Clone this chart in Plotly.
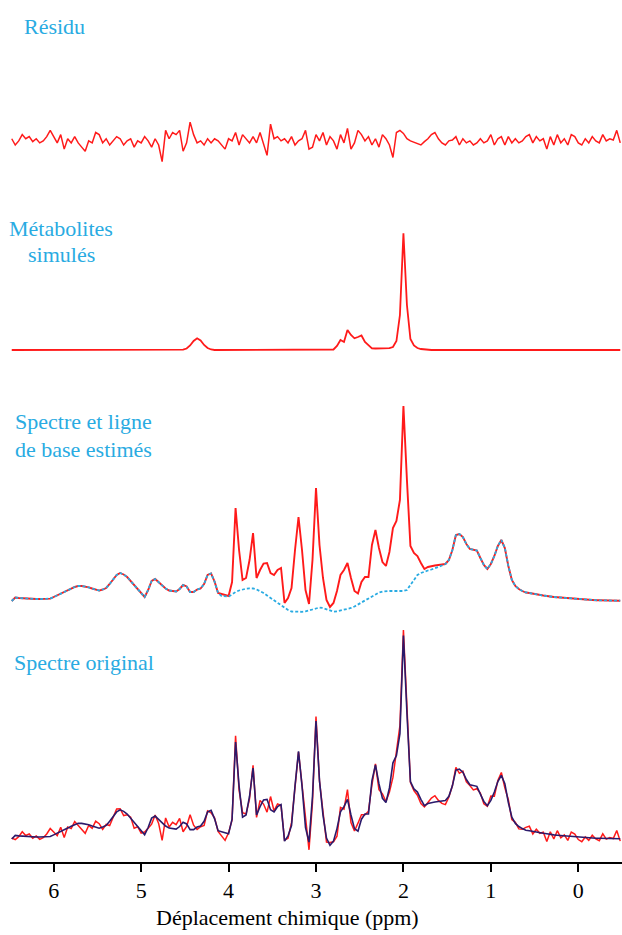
import plotly.graph_objects as go

# ---------------- data (arbitrary units) ----------------
PPM_START = 6.48
PPM_STEP = 0.04
N_POINTS = 175
ppm = [round(PPM_START - PPM_STEP * i, 2) for i in range(N_POINTS)]

# estimated spectrum (fit = metabolites + baseline)
fit = [-1, 2.5, 2, 1.7, 1.4, 1.2, 1, 1, 1, 1,
       1.2, 1.4, 3, 4.5, 6, 7.7, 9.5, 11.3, 13, 14,
       14, 13.5, 12.7, 11.5, 10.2, 9.4, 10.5, 12, 16, 21,
       25, 27, 25.5, 23, 19, 15, 11.5, 7, 3, 10,
       19, 21, 18, 15, 11.5, 9.5, 9, 8.5, 11, 15,
       13.5, 8, 8, 10.5, 11.5, 16, 25, 26.5, 18.3, 7,
       6, 5, 4, 18, 92, 50, 20, 22, 40, 67,
       22, 30, 36.5, 37, 27, 25, 30, 32, -3, 2,
       12, 50, 83, 50, 10, -4, 40, 112, 55, 22,
       0, -7, -3, 9, 25, 30, 37, 22, 9, 6.5,
       18, 23, 23, 55, 70, 52, 38, 34, 48, 72,
       79, 100, 194, 120, 54, 47, 44, 37, 31, 33,
       34, 34.5, 35, 35.5, 36, 40, 50, 65, 66, 63,
       56, 51, 50, 49.5, 42, 35, 31, 36, 44, 54,
       60, 52, 34, 20, 14, 11, 9, 7.5, 7, 6.2,
       5.7, 5.2, 4.5, 4, 3.3, 3, 2.7, 2.4, 2, 1.7,
       1.4, 1, 0.8, 0.5, 0, 0, -0.1, -0.2, -0.3, -0.3,
       -0.4, -0.5, -0.5, -0.6, -0.7]

# estimated baseline (dashed)
baseline = [-1, 2.5, 2, 1.7, 1.4, 1.2, 1, 1, 1, 1,
            1.2, 1.4, 3, 4.5, 6, 7.7, 9.5, 11.3, 13, 14,
            14, 13.5, 12.7, 11.5, 10.2, 9.4, 10.5, 12, 16, 21,
            25, 27, 25.5, 23, 19, 15, 11.5, 7, 3, 10,
            19, 21, 18, 15, 11.5, 9.5, 9, 8.5, 11, 15,
            13.5, 8, 8, 10.5, 11.5, 16, 25, 26.5, 18.3, 7,
            4, 3.5, 3.5, 5.5, 8, 9.5, 10.5, 11.3, 11.7, 11.5,
            10.5, 9, 7, 4.5, 2, -0.5, -3, -5.5, -8, -10,
            -11.5, -11.8, -12, -11.8, -11.4, -10.8, -9.5, -8.5, -7.5, -8,
            -9.5, -11, -11.7, -11.3, -10.5, -9.5, -8.8, -8, -6.5, -4.5,
            -2.5, -1, 1, 3, 5, 7.5, 8.5, 9, 9, 9,
            9, 9, 9, 10, 15, 20, 25, 27, 28.5, 29.5,
            30.5, 31.5, 33, 34.5, 36, 40, 50, 65, 66, 63,
            56, 51, 50, 49.5, 42, 35, 31, 36, 44, 54,
            60, 52, 34, 20, 14, 11, 9, 7.5, 7, 6.2,
            5.7, 5.2, 4.5, 4, 3.3, 3, 2.7, 2.4, 2, 1.7,
            1.4, 1, 0.8, 0.5, 0, 0, -0.1, -0.2, -0.3, -0.3,
            -0.4, -0.5, -0.5, -0.6, -0.7]

# simulated metabolites
metabolites = ([0] * 49 +
               [0.3, 1.5, 4.5, 9, 11.7, 9.5, 5, 2, 0.5] +
               [0] * 34 +
               [0.5, 4, 10, 8, 20, 15, 11.7, 13, 14.5, 8,
                5, 1.7, 1.5, 1.5, 1.5, 1.5, 1.8, 3, 9, 35,
                116.7, 45, 11, 4.5, 2, 1, 0.5] +
               [0] * 56)

# residual
residual = [1.0, -4.0, -0.7, 4.3, 1.0, 2.7, -1.3, 1.0, -2.3, -0.7,
            2.7, 7.7, 2.7, -2.3, 4.3, -7.3, 1.0, -2.3, 2.7, -2.3,
            -5.7, -9.0, -0.7, -2.3, 6.0, 4.3, -2.3, 1.0, -4.0, -0.7,
            2.7, 1.0, -4.0, -0.7, 1.0, -5.7, -0.7, -2.3, 2.7, -0.7,
            -5.7, 1.0, -4.0, -17.3, 7.7, 1.0, 6.0, 4.3, 7.7, -9.0,
            -2.3, 14.3, 4.3, -2.3, -0.7, -4.0, 1.0, -2.3, 1.0, -0.7,
            -4.0, -7.3, 1.0, -0.7, 6.0, -4.0, 4.3, 1.0, -2.3, 2.7,
            -2.3, 6.0, -4.0, -12.3, 12.7, 1.0, 2.7, -0.7, 1.0, -2.3,
            2.7, -4.0, -0.7, 1.0, 7.7, -7.3, -5.7, 4.3, -0.7, 6.0,
            -4.0, 2.7, -0.7, -7.3, 4.3, -2.3, 9.3, -7.3, -2.3, 7.7,
            4.3, -0.7, 2.7, -4.0, 1.0, -5.7, 4.3, 1.0, -4.0, -14.0,
            6.0, 7.7, 5.3, 1.0, -0.7, -1.7, -3.0, -4.0, -1.3, 1.0,
            4.3, 6.0, 1.0, -2.3, -4.0, -0.7, 0, 2.7, -4.0, 1.0,
            -2.3, -0.7, -4.0, -2.3, 1.0, -2.3, -0.7, 4.3, -4.0, 1.0,
            2.7, -4.0, 2.7, -2.3, 1.0, -2.3, -0.7, 2.7, 4.3, -2.3,
            2.7, -0.7, 1.0, -7.3, 2.7, -4.0, 4.3, -2.3, 1.0, -4.0,
            4.3, 2.7, -2.3, -4.0, 1.0, -2.3, 2.7, -0.7, -2.3, 4.3,
            -0.7, 1.0, 0, 7.7, -2.3]

# original (measured) spectrum
original = [0.0, -1.5, 1.3, 6.0, 2.4, 3.9, -0.3, 2.0, -1.3, 0.3,
            3.9, 9.1, 5.7, 2.2, 10.3, 0.4, 10.5, 9.0, 15.7, 11.7,
            8.3, 4.5, 12.0, 9.2, 16.2, 13.7, 8.2, 13.0, 12.0, 20.3,
            27.7, 28.0, 21.5, 22.3, 20.0, 9.3, 10.8, 4.7, 5.7, 9.3,
            13.3, 22.0, 14.0, -2.3, 19.2, 10.5, 15.0, 12.8, 18.7, 6.0,
            11.2, 22.3, 12.3, 8.2, 10.8, 12.0, 26.0, 24.2, 19.3, 6.3,
            2.0, -2.3, 5.0, 17.3, 98.0, 46.0, 24.3, 23.0, 37.7, 69.7,
            19.7, 36.0, 32.5, 24.7, 39.7, 26.0, 32.7, 31.3, -2.0, -0.3,
            14.7, 46.0, 82.3, 51.0, 17.7, -11.3, 34.3, 116.3, 54.3, 28.0,
            -4.0, -4.3, -3.7, 1.7, 29.3, 27.7, 46.3, 14.7, 6.7, 14.2,
            22.3, 22.3, 25.7, 51.0, 71.0, 46.3, 42.3, 35.0, 44.0, 58.0,
            85.0, 107.7, 199.3, 121.0, 53.3, 45.3, 41.0, 33.0, 29.7, 34.0,
            38.3, 40.5, 36.0, 33.2, 32.0, 39.3, 50.0, 67.7, 62.0, 64.0,
            53.7, 50.3, 46.0, 47.2, 43.0, 32.7, 30.3, 40.3, 40.0, 55.0,
            62.7, 48.0, 36.7, 17.7, 15.0, 8.7, 8.3, 10.2, 11.3, 3.9,
            8.4, 4.5, 5.5, -3.3, 6.0, -1.0, 7.0, 0.1, 3.0, -2.3,
            5.7, 3.7, -1.5, -3.5, 1.0, -2.3, 2.6, -0.9, -2.6, 4.0,
            -1.1, 0.5, -0.5, 7.1, -3.0]

x_ticks = [0, 1, 2, 3, 4, 5, 6]
x_title = "Déplacement chimique (ppm)"
panel_labels = ["Résidu", "Métabolites", "simulés", "Spectre et ligne",
                "de base estimés", "Spectre original"]

# ---------------- layout helpers ----------------
W, H = 622, 935
ML, MR, MT, MB = 10, 0, 0, 73
PW, PH = W - ML - MR, H - MT - MB


def fx(px):
    return (px - ML) / PW


def fy(py):
    return (H - MB - py) / PH


RED = "#ff1a1a"
BLUE = "#29abe2"
NAVY = "#2b1a6b"
FONT = "Liberation Serif, Times New Roman, Times, DejaVu Serif, serif"

fig = go.Figure()
fig.add_trace(go.Scatter(x=ppm, y=residual, yaxis="y", mode="lines",
                         line=dict(color=RED, width=1.5), hoverinfo="skip"))
fig.add_trace(go.Scatter(x=ppm, y=metabolites, yaxis="y2", mode="lines",
                         line=dict(color=RED, width=1.8), hoverinfo="skip"))
fig.add_trace(go.Scatter(x=ppm, y=fit, yaxis="y3", mode="lines",
                         line=dict(color=RED, width=1.9), hoverinfo="skip"))
fig.add_trace(go.Scatter(x=ppm, y=baseline, yaxis="y3", mode="lines",
                         line=dict(color=BLUE, width=1.8, dash="3px,2px"),
                         hoverinfo="skip"))
fig.add_trace(go.Scatter(x=ppm, y=original, yaxis="y4", mode="lines",
                         line=dict(color=RED, width=1.5), hoverinfo="skip"))
fig.add_trace(go.Scatter(x=ppm, y=fit, yaxis="y4", mode="lines",
                         line=dict(color=NAVY, width=1.6), hoverinfo="skip"))


def yax(top_px, bottom_px, zero_px, px_per_unit):
    return dict(domain=[fy(bottom_px), fy(top_px)],
                range=[-(bottom_px - zero_px) / px_per_unit,
                       (zero_px - top_px) / px_per_unit],
                visible=False, fixedrange=True)


fig.update_layout(
    width=W, height=H,
    margin=dict(l=ML, r=MR, t=MT, b=MB),
    paper_bgcolor="white", plot_bgcolor="white",
    showlegend=False,
    font=dict(family=FONT, color="black"),
    xaxis=dict(range=[6.5, -0.5], tickvals=x_ticks, ticks="outside",
               ticklen=8, tickwidth=1.5, tickcolor="black",
               showline=True, linecolor="black", linewidth=2,
               showgrid=False, zeroline=False, anchor="y4", fixedrange=True,
               tickfont=dict(size=22, family=FONT, color="black")),
    yaxis=yax(95, 185, 140, 1.25),
    yaxis2=yax(215, 362, 350, 1.0),
    yaxis3=yax(395, 625, 600, 1.0),
    yaxis4=yax(618, 862, 838, 1.044),
)

# axis title placed as in the reference (slightly left of the plot centre)
fig.add_annotation(text=x_title, xref="paper", yref="paper",
                   x=fx(287), y=fy(917), xanchor="center", yanchor="middle",
                   showarrow=False,
                   font=dict(size=22, family=FONT, color="black"))

label_pos = [(22, 26, "left"), (61, 228, "center"), (61, 254, "center"),
             (13, 422, "left"), (13, 449, "left"), (12, 662, "left")]
for text, (x, y, anchor) in zip(panel_labels, label_pos):
    fig.add_annotation(text=text, xref="paper", yref="paper",
                       x=fx(x), y=fy(y), xanchor=anchor, yanchor="middle",
                       showarrow=False,
                       font=dict(size=22, family=FONT, color=BLUE))

fig.write_html("out.html", config={"displayModeBar": False},
               post_script="document.body.style.margin='0';")
